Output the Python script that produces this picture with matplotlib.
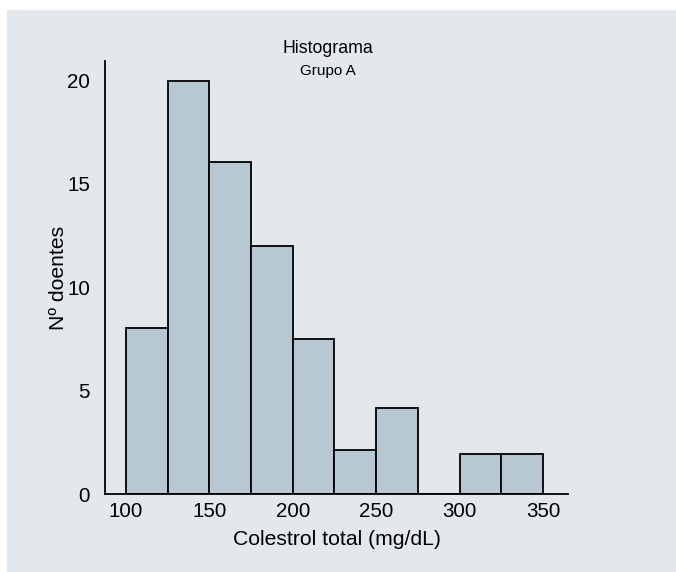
import matplotlib
matplotlib.use("Agg")
import matplotlib.pyplot as plt
from matplotlib.patches import Rectangle
from matplotlib.ticker import FixedLocator

plt.rcParams['font.family'] = ['Liberation Sans', 'DejaVu Sans']

# Data
bin_edges = [100, 125, 150, 175, 200, 225, 250, 275, 300, 325, 350]
counts = [8.05, 20, 16.05, 12, 7.5, 2.15, 4.18, 0, 1.95, 1.95]
x_ticks = [100, 150, 200, 250, 300, 350]
y_ticks = [0, 5, 10, 15, 20]
y_marked = [15, 20]
title = "Histograma"
subtitle = "Grupo A"
xlabel = "Colestrol total (mg/dL)"
ylabel = "Nº doentes"

W, H = 676, 572
fig = plt.figure(figsize=(W / 100, H / 100), dpi=100, facecolor="white")
bg = "#e2e8eb"
fig.patches.append(Rectangle((7 / W, 0), 1 - 7 / W, (H - 10) / H,
                             transform=fig.transFigure, facecolor=bg,
                             edgecolor="none", zorder=-10))

ax = fig.add_axes([105.3 / W, (H - 494) / H, (568 - 105.3) / W, (494 - 61) / H])
ax.set_zorder(5)
ax.set_facecolor("none")

lefts = bin_edges[:-1]
widths = [b - a for a, b in zip(bin_edges[:-1], bin_edges[1:])]
ax.bar(lefts, counts, width=widths, align="edge", color="#b8c8d2",
       edgecolor="black", linewidth=1.3, zorder=2)

ax.set_xlim(87.6, 365)
ax.set_ylim(0, 20.95)
for s in ["top", "right"]:
    ax.spines[s].set_visible(False)
for s in ["left", "bottom"]:
    ax.spines[s].set_linewidth(1.3)
    ax.spines[s].set_color("black")

ax.set_xticks(x_ticks)
ax.set_yticks(y_ticks)
ax.yaxis.set_minor_locator(FixedLocator(y_marked))
ax.tick_params(axis="x", which="major", length=0, pad=6, labelsize=14.8)
ax.tick_params(axis="y", which="major", length=0, pad=11, labelsize=14.8)
ax.tick_params(axis="y", which="minor", length=8, width=1.1, color="black")

ax.set_xlabel(xlabel, fontsize=15.2, labelpad=6)
ax.set_ylabel(ylabel, fontsize=15.2, labelpad=-0.5)

cx = 328 / W
fig.text(cx, (H - 53) / H, title, ha="center", va="baseline", fontsize=12.8,
         zorder=10)
fig.text(cx, (H - 75) / H, subtitle, ha="center", va="baseline", fontsize=11,
         zorder=10)

fig.savefig("out.png", dpi=100, facecolor="white")
